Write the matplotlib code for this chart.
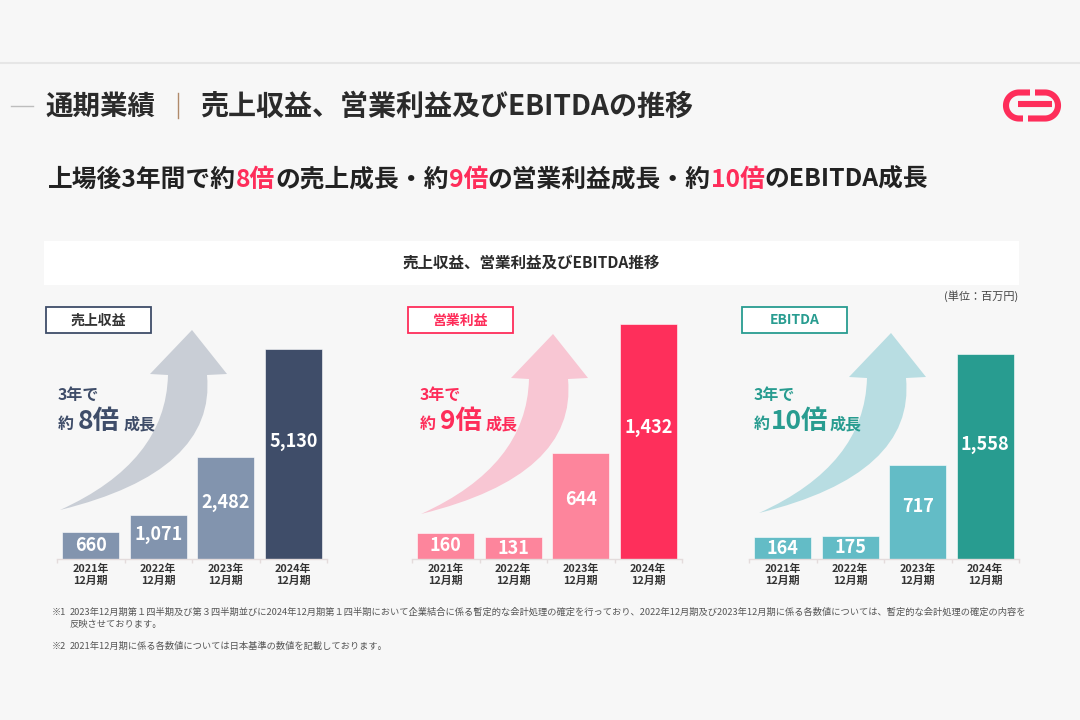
import numpy as np
import matplotlib
matplotlib.use('Agg')
import matplotlib.pyplot as plt
from matplotlib.patches import PathPatch, Rectangle
from matplotlib.path import Path
from matplotlib.lines import Line2D
import matplotlib.transforms as mtransforms

plt.rcParams['font.family'] = ['Noto Sans CJK JP', 'DejaVu Sans']

# ---------------- data ----------------
years = ['2021年\n12月期', '2022年\n12月期', '2023年\n12月期', '2024年\n12月期']
revenue = [660, 1071, 2482, 5130]
op_profit = [160, 131, 644, 1432]
ebitda = [164, 175, 717, 1558]
panel_titles = ['売上収益', '営業利益', 'EBITDA']
multiples = ['8', '9', '10']

title_left = '通期業績'
title_right = '売上収益、営業利益及びEBITDAの推移'
box_title = '売上収益、営業利益及びEBITDA推移'
unit_text = '(単位：百万円)'
note1a = '2023年12月期第１四半期及び第３四半期並びに2024年12月期第１四半期において企業結合に係る暫定的な会計処理の確定を行っており、2022年12月期及び2023年12月期に係る各数値については、暫定的な会計処理の確定の内容を'
note1b = '反映させております。'
note2 = '2021年12月期に係る各数値については日本基準の数値を記載しております。'

# ---------------- figure ----------------
W, H = 1080, 720
fig = plt.figure(figsize=(10.8, 7.2), dpi=100)
fig.patch.set_facecolor('#f7f7f7')
T = mtransforms.Affine2D().scale(1, -1).translate(0, H).scale(1 / 100) + fig.dpi_scale_trans
renderer = fig.canvas.get_renderer()


def ftext(x, y, s, **kw):
    return fig.text(x, y, s, transform=T, **kw)


def fit_text(x, y, s, width, **kw):
    t = ftext(x, y, s, **kw)
    bb = t.get_window_extent(renderer)
    t.set_fontsize(t.get_fontsize() * width / bb.width)
    return t


def rich(x, y, parts, target=None, gap=0.0):
    texts = [ftext(0, y, s, fontsize=size, color=color, fontweight=weight,
                   ha='left', va='baseline') for s, size, color, weight in parts]

    def layout():
        cx = x
        for t in texts:
            t.set_x(cx)
            cx += t.get_window_extent(renderer).width + gap
        return cx - gap - x
    w = layout()
    if target:
        f = target / w
        for t in texts:
            t.set_fontsize(t.get_fontsize() * f)
        layout()
    return texts


def fline(xs, ys, **kw):
    fig.add_artist(Line2D(xs, ys, transform=T, **kw))


# top separator line
fline([0, W], [63, 63], color='#e6e6e6', lw=1.5)

# title
fline([11, 33], [106, 106], color='#bdbdbd', lw=1.0)
fit_text(45, 115, title_left, 110, fontsize=20, fontweight='bold', color='#2b2b2b', va='baseline')
fline([178, 178], [93, 118], color='#b08a6a', lw=1.0)
fit_text(200, 115, title_right, 493, fontsize=20, fontweight='bold', color='#2b2b2b', va='baseline')

# logo
red = '#fe2d5a'
th = np.linspace(np.pi / 2, 3 * np.pi / 2, 40)
cx, cy, r = 1019, 105.5, 13
xs = np.concatenate([[1030], cx + r * np.cos(th), [1023]])
ys = np.concatenate([[cy - r], cy - r * np.sin(th), [cy + r]])
fline(xs, ys, color=red, lw=4.4, solid_capstyle='butt', solid_joinstyle='round')
th2 = np.linspace(np.pi / 2, -np.pi / 2, 40)
dx = 1045
xs = np.concatenate([[1035], dx + r * np.cos(th2), [1028]])
ys = np.concatenate([[cy - r], cy - r * np.sin(th2), [cy + r]])
fline(xs, ys, color=red, lw=4.4, solid_capstyle='butt', solid_joinstyle='round')
fline([1018, 1052], [104, 104], color=red, lw=4.4, solid_capstyle='butt')

# subtitle
dark = '#222222'
rich(48, 187, [
    ('上場後3年間で約', 18, dark, 'bold'), ('8倍', 18, red, 'bold'),
    ('の売上成長・約', 18, dark, 'bold'), ('9倍', 18, red, 'bold'),
    ('の営業利益成長・約', 18, dark, 'bold'), ('10倍', 18, red, 'bold'),
    ('のEBITDA成長', 18, dark, 'bold')], target=879)

# white header box
fig.add_artist(Rectangle((44, 241), 975, 44, transform=T, facecolor='white', edgecolor='none', zorder=0))
fit_text(531, 263, box_title, 258, fontsize=11, fontweight='bold', color='#2b2b2b', ha='center', va='center')
ftext(1018, 296, unit_text, fontsize=8, color='#444444', ha='right', va='center')

# ---------------- panels ----------------
panels = [
    dict(vals=revenue, left=57, ymax=6327, light='#8294ae', darkc='#3f4d69',
         arrow='#c9ced6', accent='#3f4d69', box=46, boxtext='#333333', shift=(0, 0), gap=4),
    dict(vals=op_profit, left=412, ymax=1578, light='#fd859c', darkc='#fe2f5b',
         arrow='#f8c6d3', accent='#fe2d5a', box=408, boxtext='#fe2d5a', shift=(361, 4), gap=4),
    dict(vals=ebitda, left=749, ymax=1968, light='#63bcc6', darkc='#289c90',
         arrow='#b8dde2', accent='#289c90', box=742, boxtext='#289c90', shift=(699, 3), gap=1),
]

# arrow outline (panel 1 pixel frame)
arrow_verts = [(60, 510), (166, 462), (168, 375), (150, 374), (192, 330), (227, 374),
               (207, 375), (216.5, 471.5), (60, 510), (60, 510)]
arrow_codes = [Path.MOVETO, Path.CURVE3, Path.CURVE3, Path.LINETO, Path.LINETO, Path.LINETO,
               Path.LINETO, Path.CURVE3, Path.CURVE3, Path.CLOSEPOLY]

bottom_px, top_px = 559, 300
for k, p in enumerate(panels):
    # curved arrow
    sx, sy = p['shift']
    verts = [(x + sx, y + sy) for x, y in arrow_verts]
    fig.add_artist(PathPatch(Path(verts, arrow_codes), transform=T, facecolor=p['arrow'],
                             edgecolor='none', zorder=-1))

    # label box
    fig.add_artist(Rectangle((p['box'], 307), 105, 26, transform=T, facecolor='white',
                             edgecolor=p['accent'], lw=1.3, zorder=1))
    ftext(p['box'] + 52.5, 320.5, panel_titles[k], fontsize=10, fontweight='bold',
          color=p['boxtext'], ha='center', va='center')

    # growth text
    ftext(p['box'] + 12, 400, '3年で', fontsize=11.5, fontweight='bold', color=p['accent'],
          ha='left', va='baseline')
    rich(p['box'] + 12, 429, [('約', 11.5, p['accent'], 'bold'),
                              (multiples[k] + '倍', 19, p['accent'], 'bold'),
                              ('成長', 11.5, p['accent'], 'bold')], gap=p['gap'])

    # bar axes
    l = p['left']
    ax = fig.add_axes([l / W, (H - bottom_px) / H, 270 / W, (bottom_px - top_px) / H])
    ax.set_facecolor('none')
    x = np.arange(len(years))
    colors = [p['light']] * 3 + [p['darkc']]
    ax.bar(x, p['vals'], width=0.845, color=colors, edgecolor='white', linewidth=0.4)
    ax.set_xlim(-0.5, 3.5)
    ax.set_ylim(0, p['ymax'])
    for s in ['left', 'right', 'top']:
        ax.spines[s].set_visible(False)
    ax.spines['bottom'].set_color('#e4dcdc')
    ax.spines['bottom'].set_linewidth(1.0)
    ax.set_yticks([])
    ax.set_xticks(x)
    ax.set_xticklabels(years)
    ax.set_xticks(np.arange(-0.5, 4.0, 1.0), minor=True)
    ax.tick_params(axis='x', which='major', length=0, pad=3.5, labelsize=7.8, labelcolor='#333333')
    ax.tick_params(axis='x', which='minor', length=3, color='#e4dcdc', width=1.0)
    for lab in ax.get_xticklabels():
        lab.set_fontweight('bold')
        lab.set_linespacing(1.2)
    for i, v in enumerate(p['vals']):
        frac = 0.56 if v > 0.15 * p['ymax'] else 0.5
        ax.text(i, v * frac, f'{v:,}', ha='center', va='center', color='white',
                fontsize=13, fontweight='bold')

# footnotes
t1 = fit_text(70, 612, note1a, 957, fontsize=6.5, color='#555555', va='center')
fs = t1.get_fontsize()
ftext(52, 612, '※1', fontsize=fs, color='#555555', va='center')
ftext(70, 625, note1b, fontsize=fs, color='#555555', va='center')
ftext(52, 646, '※2', fontsize=fs, color='#555555', va='center')
ftext(70, 646, note2, fontsize=fs, color='#555555', va='center')

fig.savefig('out.png', dpi=100, facecolor=fig.get_facecolor())
